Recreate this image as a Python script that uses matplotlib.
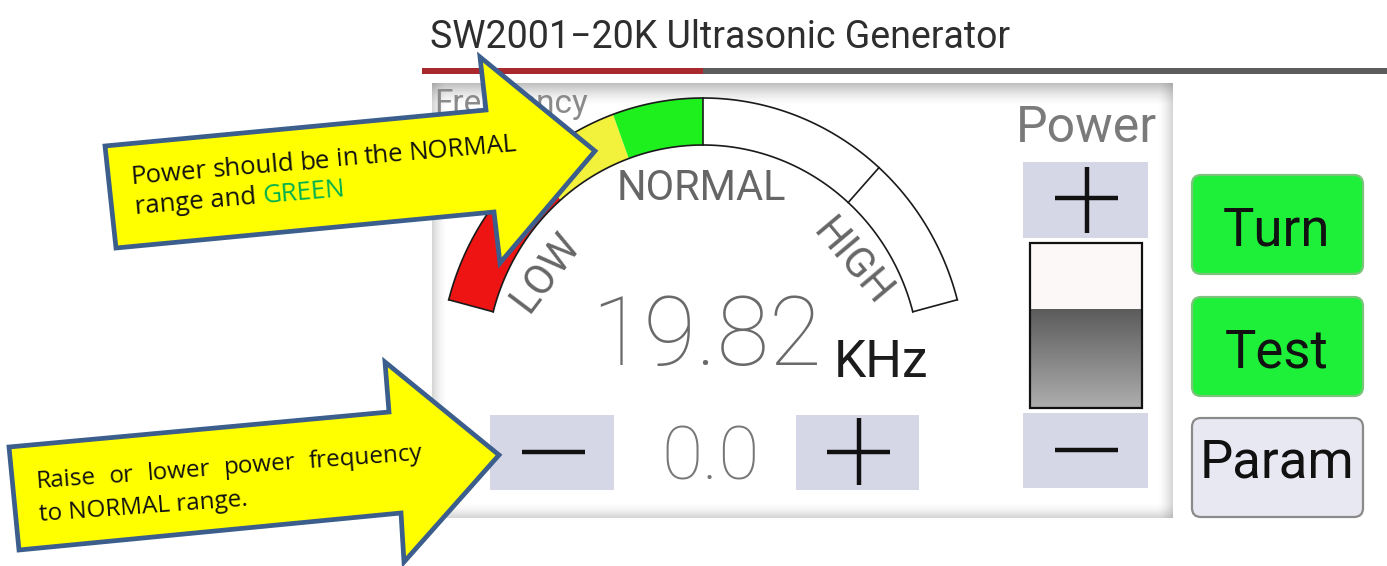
import numpy as np
import matplotlib
matplotlib.use("Agg")
import matplotlib.pyplot as plt
from matplotlib.patches import Polygon, Rectangle, FancyBboxPatch

plt.rcParams['font.family'] = ['Roboto', 'DejaVu Sans']

W, H = 1387, 566

# screen content
title = "SW2001\u221220K Ultrasonic Generator"
freq_value = 19.82
freq_step = 0.0
power_level = 0.6          # fraction of the power bar that is filled

# gauge sections, as angles in degrees from the right end (14.8) to the left end (165.2)
gauge_edges = [165.2, 131.0, 110.0, 90.0, 14.8]
gauge_colors = ['#ee1414', '#f2f23c', '#1ef01e', '#ffffff']
gauge_tick = 48.0
gauge_labels = ['LOW', 'NORMAL', 'HIGH']

buttons = ['Turn', 'Test', 'Param']
button_colors = ['#1ef03a', '#1ef03a', '#e8e8f2']
button_edges = ['#7cc47c', '#7cc47c', '#8a8a8a']

# call-out notes
note_top = ['Power should be in the NORMAL', 'range and ', 'GREEN']
note_bottom = ['Raise or lower power frequency', 'to NORMAL range.']

# gauge geometry (pixels)
CX, CY = 703, 369
R_OUT = (263, 271)
R_IN = (217, 224)


def arc(t0, t1, r, n=120):
    t = np.radians(np.linspace(t0, t1, n))
    return np.column_stack([CX + r[0] * np.cos(t), CY - r[1] * np.sin(t)])


def shade(ax, extent, side, amax=0.4, grey=0.45):
    """Soft inner shadow strip; side is the dark side"""
    n = 64
    a = np.linspace(amax, 0, n) ** 1.5
    img = np.zeros((n, n, 4))
    img[..., :3] = grey
    if side == 'top':
        img[..., 3] = a[:, None]
    elif side == 'bottom':
        img[..., 3] = a[::-1][:, None]
    elif side == 'left':
        img[..., 3] = a[None, :]
    else:
        img[..., 3] = a[::-1][None, :]
    ax.imshow(img, extent=extent, aspect='auto', interpolation='bilinear', zorder=1)


fig = plt.figure(figsize=(W / 100, H / 100), dpi=100)
ax = fig.add_axes([0, 0, 1, 1])
ax.axis('off')
renderer = fig.canvas.get_renderer()


def text_width(txt, **kw):
    t = ax.text(0, 0, txt, **kw)
    w = t.get_window_extent(renderer).width
    t.remove()
    return w


def justify(words, x0, y0, length, angle, **kw):
    widths = [text_width(w, **kw) for w in words]
    gap = (length - sum(widths)) / (len(words) - 1)
    d = np.array([np.cos(np.radians(angle)), -np.sin(np.radians(angle))])
    s = 0.0
    for w, wd in zip(words, widths):
        p = np.array([x0, y0]) + d * s
        ax.text(p[0], p[1], w, rotation=angle, rotation_mode='anchor',
                ha='left', va='baseline', **kw)
        s += wd + gap


# title and the coloured rule under it
ax.text(430, 48, title, fontsize=27, color='#2e2e2e', ha='left', va='baseline')
ax.plot([422, 703], [70.5, 70.5], color='#a8282c', lw=4.3, solid_capstyle='butt')
ax.plot([703, W], [70.5, 70.5], color='#5c5c5c', lw=4.3, solid_capstyle='butt')

# panel shadows
shade(ax, (432, 1173, 106, 83), 'top', 0.6)
shade(ax, (432, 447, 518, 83), 'left', 0.45)
shade(ax, (1158, 1173, 518, 83), 'right', 0.45)
shade(ax, (432, 1173, 518, 503), 'bottom', 0.45)

ax.text(434, 113, 'Frequency', fontsize=24, color='#8a8a8a', ha='left', va='baseline')

# gauge
for t0, t1, c in zip(gauge_edges[:-1], gauge_edges[1:], gauge_colors):
    pts = np.vstack([arc(t0, t1, R_OUT), arc(t1, t0, R_IN)])
    ax.add_patch(Polygon(pts, closed=True, facecolor=c, edgecolor='none', zorder=2))
lo, hi = gauge_edges[0], gauge_edges[-1]
for r in (R_OUT, R_IN):
    p = arc(lo, hi, r)
    ax.plot(p[:, 0], p[:, 1], color='#1a1a1a', lw=1.2, zorder=3)
for t in (lo, hi, gauge_edges[3], gauge_tick):
    p = np.vstack([arc(t, t, R_OUT, 1), arc(t, t, R_IN, 1)])
    ax.plot(p[:, 0], p[:, 1], color='#1a1a1a', lw=1.2, zorder=3)

lab_kw = dict(fontsize=30, color='#666666', ha='center', va='center',
              rotation_mode='anchor', zorder=3)
ax.text(546, 272, gauge_labels[0], rotation=53, **lab_kw)
ax.text(701, 189, gauge_labels[1], **lab_kw)
ax.text(852, 262, gauge_labels[2], rotation=-50, **lab_kw)

ax.text(706, 365, f'{freq_value:.2f}', fontsize=69, fontweight='light', color='#6a6a6a',
        ha='center', va='baseline')
ax.text(834, 377, 'KHz', fontsize=37, color='#1c1c1c', ha='left', va='baseline')

# frequency step buttons
btn_kw = dict(facecolor='#d5d6e6', edgecolor='none', zorder=2)
ax.add_patch(Rectangle((490, 415), 124, 75, **btn_kw))
ax.add_patch(Rectangle((796, 415), 123, 75, **btn_kw))
ax.plot([522, 585], [452, 452], color='#111111', lw=3.2, solid_capstyle='butt', zorder=3)
ax.plot([827, 890], [452, 452], color='#111111', lw=3.2, solid_capstyle='butt', zorder=3)
ax.plot([859, 859], [418, 485], color='#111111', lw=3.2, solid_capstyle='butt', zorder=3)
ax.text(711, 480, f'{freq_step:.1f}', fontsize=54, fontweight='light', color='#777777',
        ha='center', va='baseline')

# power column
ax.text(1087, 142, 'Power', fontsize=36, color='#7a7a7a', ha='center', va='baseline')
ax.add_patch(Rectangle((1023, 162), 125, 76, **btn_kw))
ax.add_patch(Rectangle((1023, 413), 125, 75, **btn_kw))
ax.plot([1055, 1118], [198, 198], color='#111111', lw=3.2, solid_capstyle='butt', zorder=3)
ax.plot([1087, 1087], [167, 233], color='#111111', lw=3.2, solid_capstyle='butt', zorder=3)
ax.plot([1055, 1118], [450, 450], color='#111111', lw=3.2, solid_capstyle='butt', zorder=3)

bx0, bx1, by0, by1 = 1030, 1142, 243, 408
lvl = by1 - power_level * (by1 - by0)
ax.add_patch(Rectangle((bx0, by0), bx1 - bx0, by1 - by0, facecolor='#fcf8f8',
                       edgecolor='none', zorder=2))
grad = np.linspace(0.36, 0.68, 64)[:, None, None] * np.ones((1, 1, 3))
ax.imshow(grad, extent=(bx0, bx1, by1, lvl), aspect='auto', interpolation='bilinear', zorder=2)
ax.add_patch(Rectangle((bx0, by0), bx1 - bx0, by1 - by0, facecolor='none',
                       edgecolor='#111111', lw=1.6, zorder=3))

# right hand buttons
tops = [175, 297, 418]
bases = [245, 367, 478]
for name, top, base, fc, ec in zip(buttons, tops, bases, button_colors, button_edges):
    ax.add_patch(FancyBboxPatch((1192, top), 171, 99,
                                boxstyle='round,pad=0,rounding_size=9',
                                facecolor=fc, edgecolor=ec, lw=1.6, zorder=2))
    ax.text(1277, base, name, fontsize=38, color='#111111',
            ha='center', va='baseline', zorder=3)

# call-out arrows
arrow_top = [(105, 146), (486, 110), (480, 57), (595, 151), (500, 263), (494, 212), (116, 248)]
arrow_bottom = [(9, 447), (389, 412), (385, 362), (499, 455), (404, 562), (401, 513), (19, 550)]
for pts in (arrow_top, arrow_bottom):
    ax.add_patch(Polygon(pts, closed=True, facecolor='#ffff00', edgecolor='#3b5e8c',
                         lw=3.4, joinstyle='miter', zorder=10))

note_kw = dict(family=['Open Sans', 'DejaVu Sans'], color='#111111', zorder=11)
a1 = 4.9
justify(note_top[0].split(), 132, 184, 387, a1, fontsize=18.5, **note_kw)
x2, y2 = 135, 214
ax.text(x2, y2, note_top[1], rotation=a1, rotation_mode='anchor', ha='left',
        va='baseline', fontsize=18.5, **note_kw)
wr = text_width(note_top[1], fontsize=18.5, **note_kw)
gx = x2 + wr * np.cos(np.radians(a1))
gy = y2 - wr * np.sin(np.radians(a1))
ax.text(gx, gy, note_top[2], rotation=a1, rotation_mode='anchor', ha='left',
        va='baseline', fontsize=18.5, family=['Open Sans', 'DejaVu Sans'],
        color='#00b050', zorder=11)

a2 = 4.2
justify(note_bottom[0].split(), 37, 488, 387, a2, fontsize=17.5, **note_kw)
ax.text(40, 521, note_bottom[1], rotation=a2, rotation_mode='anchor', ha='left',
        va='baseline', fontsize=17.5, **note_kw)

ax.set_xlim(0, W)
ax.set_ylim(H, 0)
fig.savefig('out.png', dpi=100, facecolor='white')
